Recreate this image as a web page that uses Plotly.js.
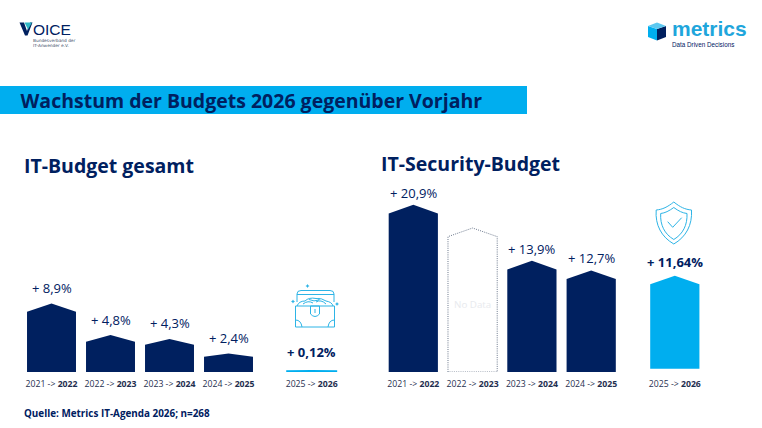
<!DOCTYPE html>
<html><head><meta charset="utf-8">
<script src="https://cdn.plot.ly/plotly-3.0.1.min.js"></script>
<style>html,body{margin:0;padding:0;background:#fff}#c{width:762px;height:428px}</style>
</head><body><div id="c"></div>
<script>
// --- Data ---
const budgetFrom = [2021, 2022, 2023, 2024, 2025];
const budgetTo = [2022, 2023, 2024, 2025, 2026];
const itBudgetGrowth = [8.9, 4.8, 4.3, 2.4, 0.12];
const securityGrowth = [20.9, null, 13.9, 12.7, 11.64];
const noDataPlaceholder = 18;
const mainTitle = 'Wachstum der Budgets 2026 gegenüber Vorjahr';
const panelTitles = ['IT-Budget gesamt', 'IT-Security-Budget'];
const sourceNote = 'Quelle: Metrics IT-Agenda 2026; n=268';

// --- Style ---
const NAVY = '#00205F', SKY = '#00AEEF', ICON = '#2DB4E6', FONT = '"Open Sans", sans-serif';
const LOGO = '"Liberation Sans", sans-serif', SMALL = '"DejaVu Sans", sans-serif';
const W = 762, H = 428, halfW = 0.415;
const slots = [0, 1, 2, 3, 4.41];
const pxX = x => x / W, pxY = y => 1 - y / H;

function pentagon(xc, v, base, xa, ya, opts) {
  const shoulder = Math.min(1.08, v * 0.18);
  const xs = [xc - halfW, xc - halfW, xc, xc + halfW, xc + halfW, xc - halfW];
  const ys = [base, Math.max(base, v + base - shoulder), v + base, Math.max(base, v + base - shoulder), base, base];
  return Object.assign({type: 'scatter', mode: 'lines', x: xs, y: ys, xaxis: xa, yaxis: ya,
    fill: 'toself', hoverinfo: 'skip', showlegend: false}, opts);
}
const solid = (c, w) => ({fillcolor: c, line: {color: c, width: w || 0}});
const traces = [];
const annotations = [];
const fmt = v => '+ ' + String(v).replace('.', ',') + '%';

itBudgetGrowth.forEach((v, i) => {
  const last = i === 4;
  traces.push(pentagon(slots[i], v, 0, 'x', 'y', solid(last ? SKY : NAVY, last ? 2 : 0)));
  annotations.push({xref: 'x', yref: 'y', x: slots[i], y: v, yanchor: 'middle', yshift: last ? 19 : 15.5,
    text: last ? '<b>' + fmt(v) + '</b>' : fmt(v), showarrow: false,
    font: {family: FONT, size: 13, color: NAVY}});
});
const liftedBase = 0.4;
securityGrowth.forEach((v, i) => {
  const last = i === 4;
  if (v === null) {
    traces.push(pentagon(slots[i], noDataPlaceholder, 0, 'x2', 'y2',
      {fillcolor: 'rgba(255,255,255,0)', line: {color: '#46566E', width: 0.8, dash: '1px,1.2px'}}));
    annotations.push({xref: 'x2', yref: 'y2', x: slots[i], y: noDataPlaceholder / 2.12, text: 'No Data', showarrow: false,
      font: {family: FONT, size: 9.8, color: '#E8EAEE'}});
    return;
  }
  const base = last ? liftedBase : 0;
  traces.push(pentagon(slots[i], v, base, 'x2', 'y2', solid(last ? SKY : NAVY)));
  annotations.push({xref: 'x2', yref: 'y2', x: slots[i], y: v + base, yanchor: 'middle', yshift: last ? 14 : 12,
    text: last ? '<b>' + fmt(v) + '</b>' : fmt(v), showarrow: false,
    font: {family: FONT, size: 13, color: NAVY}});
});

const tickText = budgetFrom.map((f, i) => f + ' -&gt; <b>' + budgetTo[i] + '</b>');
function xAxis(domainPx, origin, step, anchor) {
  return {domain: [pxX(domainPx[0]), pxX(domainPx[1])],
    range: [(domainPx[0] - origin) / step, (domainPx[1] - origin) / step],
    anchor, tickmode: 'array', tickvals: slots, ticktext: tickText, tickangle: 0,
    showgrid: false, zeroline: false, showline: false, ticks: '', ticklabelstandoff: 5,
    tickfont: {family: FONT, size: 8.7, color: '#1F2F50'}, fixedrange: true, automargin: false};
}
function yAxis(top, pxPerUnit, anchor) {
  return {domain: [pxY(372), pxY(top)], range: [0, (372 - top) / pxPerUnit], anchor,
    visible: false, fixedrange: true, automargin: false};
}
function txt(text, x, y, size, color, bold, family) {
  return {xref: 'paper', yref: 'paper', x: pxX(x), y: pxY(y), xanchor: 'left', yanchor: 'middle', align: 'left',
    text: bold ? '<b>' + text + '</b>' : text, showarrow: false, font: {family: family || FONT, size, color}, borderpad: 0, borderwidth: 0};
}
annotations.push(txt(panelTitles[0], 24, 165, 19.5, NAVY, true));
annotations.push(txt(panelTitles[1], 381, 164, 19.5, NAVY, true));
annotations.push(txt(sourceNote, 24, 413, 9.9, NAVY, true));
annotations.push(txt('OICE', 33, 29, 15.5, NAVY, false, LOGO));
annotations.push(txt('Bundesverband der', 32.5, 40.7, 4.3, '#44506A', false, SMALL));
annotations.push(txt('IT-Anwender e.V.', 32.5, 45.8, 4.3, '#44506A', false, SMALL));
annotations.push(txt('metrics', 672, 28.5, 21, '#1FA6DC', true, LOGO));
annotations.push(txt('Data Driven Decisions', 672, 44.2, 6.3, NAVY, false, LOGO));

// Decoration drawn in page pixels on a hidden overlay axis pair
const deco = (path, o) => Object.assign({type: 'path', xref: 'x3', yref: 'y3', path, layer: 'above', line: {width: 0}}, o);
const stroke = (path, w) => deco(path, {line: {color: ICON, width: w || 1}, fillcolor: 'rgba(0,0,0,0)'});
const fillP = (path, c) => deco(path, {fillcolor: c, line: {width: 0}});
const sparkle = (x, y, r) => fillP(`M${x} ${y - r} L${x + r * .35} ${y - r * .35} L${x + r} ${y} L${x + r * .35} ${y + r * .35} L${x} ${y + r} L${x - r * .35} ${y + r * .35} L${x - r} ${y} L${x - r * .35} ${y - r * .35} Z`, ICON);

const shapes = [
  {type: 'rect', xref: 'paper', yref: 'paper', x0: 0, x1: pxX(527), y0: pxY(114), y1: pxY(86), fillcolor: SKY, line: {width: 0}, layer: 'below'},
  // VOICE mark
  fillP('M19.5 22.5 L24 22.5 L27 31 L30 22.5 L32.5 22.5 L27.5 35.5 L25 35.5 Z', NAVY),
  fillP('M24.5 22.5 L32 22.5 L28 29.5 Z', '#2FB7C6'),
  // metrics cube
  fillP('M648 26 L657 29 L657 40.5 L648 37 Z', SKY),
  fillP('M657 29 L666 26 L666 37 L657 40.5 Z', NAVY),
  fillP('M648 26 L657 22.5 L666 26 L657 29 Z', '#5CC8F0'),
  // chest
  stroke('M297 302 L297 294 Q297 290.5 301 290.5 L330 290.5 Q334 290.5 334 294 L334 302'),
  stroke('M297 294.5 L334 294.5'),
  stroke('M295.5 306 L334.5 306 L334.5 327 L295.5 327 Z'),
  stroke('M297 306 Q299 301 305 301 Q309 297 316 298.5 Q322 298 326 301 Q332 302 333 306'),
  stroke('M303 304 Q308 300 313 303 M316 302 Q321 299 326 304 M309 299.5 Q314 302 319 300'),
  stroke('M310.5 306 L319.5 306 L319.5 314 Q315 319 310.5 314 Z'),
  stroke('M315 309 L315 313'),
  stroke('M295.5 320 Q301 320 302 327 M334.5 320 Q329 320 328 327'),
  sparkle(307.5, 286, 2), sparkle(293, 301.5, 2), sparkle(337, 304, 2), sparkle(319, 299, 1.2),
  // shield
  stroke('M673.8 202 C680 207 685 209.5 691.5 210 C692.5 225 686 237 673.8 244 C661.5 237 655 225 656.2 210 C662.5 209.5 667.5 207 673.8 202 Z'),
  stroke('M673.8 207.5 C678.5 211 682.5 213 687 213.5 C687.5 225 683 234 673.8 239.5 C664.5 234 660 225 660.7 213.5 C665 213 669 211 673.8 207.5 Z'),
  stroke('M667.7 221.7 L672.7 227.3 L681.7 217.7')
];

// invisible corner points keep the overlay axis pair alive
traces.push({type: 'scatter', mode: 'markers', x: [0, W], y: [0, H], xaxis: 'x3', yaxis: 'y3',
  marker: {opacity: 0, size: 1}, hoverinfo: 'skip', showlegend: false});

const layout = {
  width: W, height: H, margin: {l: 0, r: 0, t: 0, b: 0}, paper_bgcolor: '#fff', plot_bgcolor: 'rgba(0,0,0,0)',
  showlegend: false, hovermode: false,
  title: {text: '<b>' + mainTitle + '</b>', x: pxX(20.5), xanchor: 'left', y: pxY(101), yanchor: 'middle',
    font: {family: FONT, size: 19.5, color: NAVY}, pad: {l: 0, r: 0, t: 0, b: 0}},
  xaxis: xAxis([20, 350], 51.5, 59, 'y'),
  yaxis: yAxis(190, 7.7, 'x'),
  xaxis2: xAxis([380, 720], 413.3, 59.3, 'y2'),
  yaxis2: yAxis(190, 8.0, 'x2'),
  xaxis3: {domain: [0, 1], range: [0, W], visible: false, anchor: 'y3', fixedrange: true},
  yaxis3: {domain: [0, 1], range: [H, 0], visible: false, anchor: 'x3', fixedrange: true},
  annotations, shapes
};
Plotly.newPlot('c', traces, layout, {staticPlot: true, displayModeBar: false});
</script></body></html>
